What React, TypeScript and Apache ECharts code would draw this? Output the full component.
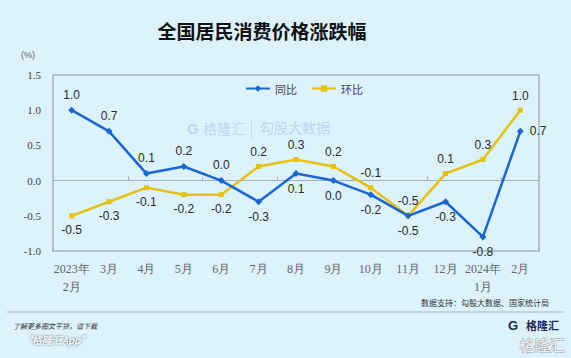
import React, { useEffect, useRef } from "react";
import * as echarts from "echarts";

const categories = ["2023年\n2月", "3月", "4月", "5月", "6月", "7月", "8月", "9月", "10月", "11月", "12月", "2024年\n1月", "2月"];
const yoy = [1.0, 0.7, 0.1, 0.2, 0.0, -0.3, 0.1, 0.0, -0.2, -0.5, -0.3, -0.8, 0.7];
const mom = [-0.5, -0.3, -0.1, -0.2, -0.2, 0.2, 0.3, 0.2, -0.1, -0.5, 0.1, 0.3, 1.0];
const yoyLabelPos = ["top", "top", "top", "top", "top", "bottom", "bottom", "bottom", "bottom", "bottom", "bottom", "bottom", "right"];
const momLabelPos = ["bottom", "bottom", "bottom", "bottom", "bottom", "top", "top", "top", "top", "top", "top", "top", "top"];

const BLUE = "#1a66d4";
const YELLOW = "#e6c20c";

export default function App() {
  const ref = useRef<HTMLDivElement>(null);
  useEffect(() => {
    const chart = echarts.init(ref.current!, null, { renderer: "svg" });
    const labelStyle = {
      show: true,
      fontSize: 12,
      color: "#2a2a2a",
      fontFamily: "Liberation Sans, Arial, sans-serif",
      distance: 6,
      formatter: (p: any) => Number(p.value).toFixed(1),
    };
    const wm = "rgba(90,140,210,0.28)";
    chart.setOption({
      animation: false,
      backgroundColor: "#dcf2fc",
      title: {
        text: "全国居民消费价格涨跌幅",
        left: 257,
        top: 16,
        textAlign: "center",
        textStyle: { fontSize: 19, fontWeight: "bold", color: "#111", fontFamily: "Noto Sans CJK SC" },
      },
      legend: {
        top: 78,
        left: 240,
        itemWidth: 24,
        itemHeight: 8,
        itemGap: 14,
        textStyle: { fontSize: 11, color: "#444", fontFamily: "Noto Sans CJK SC" },
        data: ["同比", "环比"],
      },
      grid: {
        left: 53,
        right: 32,
        top: 75,
        bottom: 107,
        show: true,
        borderColor: "#a6b2bc",
        borderWidth: 1.5,
        backgroundColor: "transparent",
      },
      xAxis: [
        {
          type: "category",
          data: categories,
          position: "bottom",
          boundaryGap: true,
          axisLine: { show: false, onZero: false },
          axisTick: { show: false },
          axisLabel: {
            color: "#666",
            fontSize: 12,
            fontFamily: "Liberation Serif, Times New Roman, serif",
            margin: 9,
            lineHeight: 18,
            interval: 0,
          },
        },
        {
          type: "category",
          data: categories,
          position: "bottom",
          boundaryGap: true,
          axisLine: { show: true, onZero: true, lineStyle: { color: "#a6b2bc", width: 1.2 } },
          axisTick: { show: true, inside: true, length: 4, lineStyle: { color: "#a6b2bc" } },
          axisLabel: { show: false },
        },
      ],
      yAxis: {
        type: "value",
        min: -1,
        max: 1.5,
        interval: 0.5,
        axisLine: { show: false },
        axisTick: { show: false },
        splitLine: { show: false },
        axisLabel: {
          color: "#444",
          fontSize: 11,
          fontFamily: "Liberation Serif, Times New Roman, serif",
          margin: 12,
          formatter: (v: number) => v.toFixed(1),
        },
      },
      graphic: [
        { type: "text", left: 21, top: 50, style: { text: "(%)", fontSize: 9, fill: "#666", fontFamily: "Liberation Sans" } },
        { type: "text", left: 187, top: 121, style: { text: "G", fontSize: 15, fontWeight: "bold", fill: wm, fontFamily: "Liberation Sans" } },
        { type: "text", left: 203, top: 121, style: { text: "格隆汇", fontSize: 14, fill: wm, fontFamily: "Noto Sans CJK SC" } },
        { type: "rect", shape: { x: 251, y: 119, width: 0.8, height: 20 }, style: { fill: "rgba(90,140,210,0.25)" } },
        { type: "text", left: 260, top: 120, style: { text: "勾股大数据", fontSize: 14, fill: wm, fontFamily: "Noto Sans CJK SC" } },
        { type: "text", right: 22, top: 298, style: { text: "数据支持：勾股大数据、国家统计局", fontSize: 8, fill: "#333", fontFamily: "Noto Sans CJK SC" } },
        { type: "line", shape: { x1: 7, y1: 312, x2: 563, y2: 312 }, style: { stroke: "#a8b0b8", lineWidth: 1 } },
        { type: "text", left: 13, top: 322, style: { text: "了解更多图文干货，请下载", fontSize: 7, fill: "#333", fontStyle: "italic", fontFamily: "Noto Sans CJK SC" } },
        { type: "text", left: 22, top: 334, style: { text: "“格隆汇App”", fontSize: 10, fill: "#fff", textShadowColor: "#222", textShadowBlur: 2, fontStyle: "italic", fontFamily: "Noto Sans CJK SC" } },
        { type: "text", left: 508, top: 319, style: { text: "G", fontSize: 13, fontWeight: "bold", fill: "#1c2a50", fontFamily: "Liberation Sans" } },
        { type: "text", left: 526, top: 319, style: { text: "格隆汇", fontSize: 11, fontWeight: "bold", fill: "#1c2a50", fontFamily: "Noto Sans CJK SC" } },
        { type: "text", left: 519, top: 336, style: { text: "格隆汇", fontSize: 15, fill: "#fff", stroke: "#999", lineWidth: 1, opacity: 0.9, fontFamily: "Noto Sans CJK SC" } },
      ],
      series: [
        {
          name: "同比",
          type: "line",
          xAxisIndex: 0,
          data: yoy.map((v, i) => ({ value: v, label: { position: yoyLabelPos[i] } })),
          color: BLUE,
          symbol: "diamond",
          symbolSize: 7,
          lineStyle: { width: 2.5, color: BLUE },
          itemStyle: { color: BLUE },
          label: labelStyle,
          z: 3,
        },
        {
          name: "环比",
          type: "line",
          xAxisIndex: 0,
          data: mom.map((v, i) => ({ value: v, label: { position: momLabelPos[i] } })),
          color: YELLOW,
          symbol: "rect",
          symbolSize: 5,
          lineStyle: { width: 2.5, color: YELLOW },
          itemStyle: { color: YELLOW },
          label: labelStyle,
          z: 2,
        },
      ],
    });
    return () => chart.dispose();
  }, []);
  return <div ref={ref} style={{ width: 571, height: 358, position: "absolute", left: 0, top: 0 }} />;
}
